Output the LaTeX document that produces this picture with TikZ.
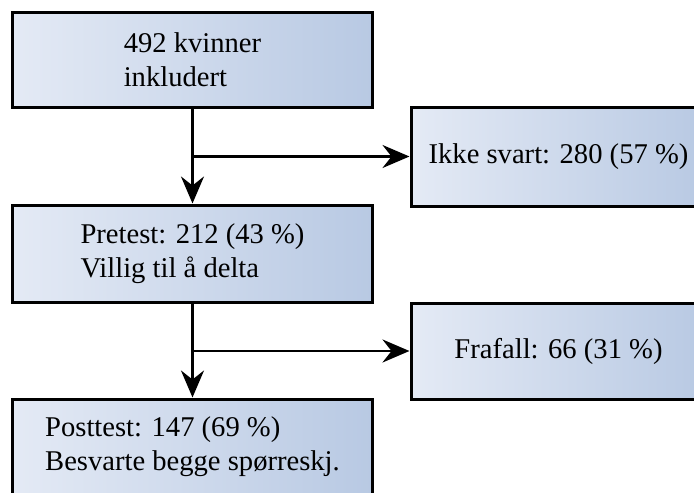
\documentclass[tikz,border=0pt]{standalone}
\usepackage{fontspec}
\setmainfont{Liberation Serif}
\usetikzlibrary{arrows.meta}
\definecolor{boxleft}{RGB}{228,234,245}
\definecolor{boxright}{RGB}{184,201,227}

\begin{document}
\begin{tikzpicture}[x=1pt, y=-1pt,
		box/.style={draw=black, line width=3pt, rectangle, left color=boxleft, right color=boxright,
			align=left, inner sep=0pt, font=\fontsize{28.6}{34}\selectfont},
		flow/.style={line width=2.6pt, -{Stealth[length=27pt, width=23pt, inset=9pt]}}]
		%%%%% START %%%%%
		
		\useasboundingbox (0, 0) rectangle (694, 493);
		
		\node[box, minimum width=360pt, minimum height=95pt] (incl) at (192.5, 59.5) {492 kvinner\\inkludert};
		\node[box, minimum width=295pt, minimum height=99pt] (ikke) at (558.5, 156.5) {Ikke svart: 280 (57 \%)};
		\node[box, minimum width=360pt, minimum height=97pt] (pre) at (192.5, 253.5) {Pretest: 212 (43 \%)\\Villig til å delta};
		\node[box, minimum width=295pt, minimum height=96pt] (frafall) at (558.5, 351) {Frafall: 66 (31 \%)};
		\node[box, minimum width=360pt, minimum height=96pt] (post) at (192.5, 447) {Posttest: 147 (69 \%)\\Besvarte begge spørreskj.};
		
		\coordinate (split1) at (incl.south |- ikke.west);
		\coordinate (split2) at (pre.south |- frafall.west);
		
		\draw[flow] (incl.south) -- (pre.north);
		\draw[flow] (split1) -- (ikke.west);
		
		\draw[flow] (pre.south) -- (post.north);
		\draw[flow] (split2) -- (frafall.west);
		
		%%%%% END %%%%%
	\end{tikzpicture}
\end{document}
